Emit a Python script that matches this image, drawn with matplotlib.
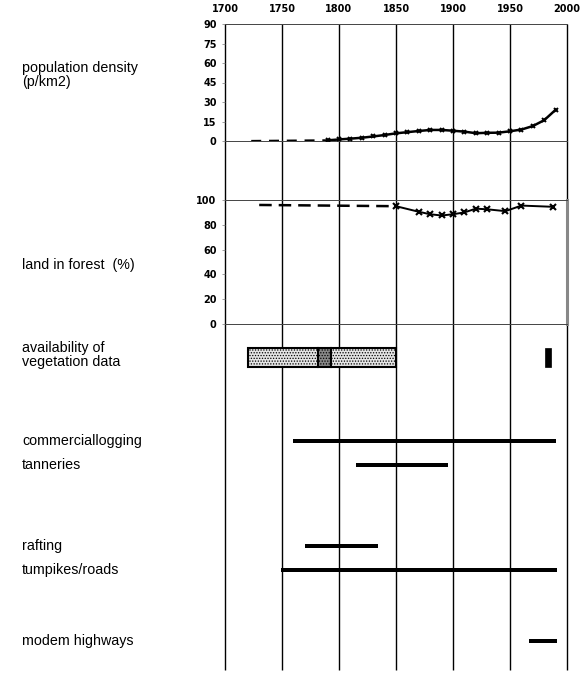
import matplotlib
matplotlib.use("Agg")
import matplotlib.pyplot as plt
from matplotlib import font_manager

# ---------------- data ----------------
grid_years = [1700, 1750, 1800, 1850, 1900, 1950, 2000]

pop_early_years = [1723, 1750, 1775, 1790]
pop_early_vals = [0.0, 0.2, 0.4, 0.5]
pop_years = [1790, 1800, 1810, 1820, 1830, 1840, 1850, 1860, 1870, 1880, 1890,
             1900, 1910, 1920, 1930, 1940, 1950, 1960, 1970, 1980, 1990]
pop_vals = [0.5, 1.2, 1.8, 2.5, 3.5, 4.6, 5.9, 6.8, 7.7, 8.5, 8.5,
            7.9, 7.2, 6.0, 6.3, 6.4, 7.5, 8.8, 11.5, 16.0, 24.0]
pop_ticks = [0, 15, 30, 45, 60, 75, 90]

forest_early_years = [1730, 1790, 1850]
forest_early_vals = [96.0, 95.5, 95.0]
forest_years = [1850, 1870, 1880, 1890, 1900, 1910, 1920, 1930, 1946, 1960, 1988]
forest_vals = [95.0, 90.5, 88.5, 87.5, 88.5, 90.0, 93.0, 92.5, 91.0, 95.5, 94.5]
forest_ticks = [0, 20, 40, 60, 80, 100]

veg_start = [1720, 1782, 1793, 1981]
veg_end = [1782, 1793, 1850, 1986]
veg_kind = ["sparse", "dense", "sparse", "recent"]

activity_labels = ["commerciallogging", "tanneries", "rafting",
                   "tumpikes/roads", "modem highways"]
activity_start = [1760, 1815, 1770, 1749, 1967]
activity_end = [1990, 1896, 1834, 1991, 1991]

# ---------------- layout (pixels) ----------------
W, H = 582, 681
names = {f.name for f in font_manager.fontManager.ttflist}
label_font = "Liberation Sans Narrow" if "Liberation Sans Narrow" in names else "Liberation Sans"
label_size = 12 if label_font == "Liberation Sans Narrow" else 10.3
tick_font = "DejaVu Sans"

plt.rcParams["hatch.color"] = "#444444"
plt.rcParams["hatch.linewidth"] = 0.6


def rect(l, t, r, b):
    return [l / W, 1 - b / H, (r - l) / W, (b - t) / H]


fig = plt.figure(figsize=(W / 100, H / 100), dpi=100)
fig.patch.set_facecolor("white")

# background grid (vertical year lines)
bg = fig.add_axes(rect(225, 24, 567, 670))
bg.set_xlim(1700, 2000)
bg.set_ylim(0, 1)
bg.patch.set_alpha(0)
for s in bg.spines.values():
    s.set_visible(False)
bg.set_yticks([])
bg.xaxis.tick_top()
bg.set_xticks(grid_years)
bg.set_xticklabels([str(y) for y in grid_years], fontfamily=tick_font,
                   fontweight="bold", fontsize=7)
bg.tick_params(axis="x", length=0, pad=7.5)
bg.vlines(grid_years, 0, 1, color="black", lw=1.0, zorder=1, clip_on=False)


def style_panel(ax, ymax, ticks):
    ax.set_xlim(1700, 2000)
    ax.set_ylim(0, ymax)
    ax.patch.set_alpha(0)
    ax.set_xticks([])
    ax.set_yticks(ticks)
    ax.set_yticklabels([str(t) for t in ticks], fontfamily=tick_font,
                       fontweight="bold", fontsize=7)
    ax.tick_params(axis="y", length=2, width=0.5, color="#777777", pad=4)
    ax.spines["left"].set_visible(False)
    ax.spines["right"].set_visible(False)
    for k in ("top", "bottom"):
        ax.spines[k].set_color("#444444")
        ax.spines[k].set_linewidth(0.7)


# population density panel
ax_pop = fig.add_axes(rect(225, 24, 567, 141))
style_panel(ax_pop, 90, pop_ticks)
ax_pop.plot(pop_early_years, pop_early_vals, color="black", lw=1.6,
            dashes=(4.5, 3.5), zorder=3)
ax_pop.plot(pop_years, pop_vals, color="black", lw=1.8, marker="x",
            markersize=3.5, mew=1.4, zorder=3)

# forest panel
ax_for = fig.add_axes(rect(225, 200, 567, 324))
style_panel(ax_for, 100, forest_ticks)
ax_for.spines["right"].set_visible(True)
ax_for.spines["right"].set_color("#888888")
ax_for.spines["right"].set_linewidth(2.2)
ax_for.plot(forest_early_years, forest_early_vals, color="black", lw=1.8,
            dashes=(5, 2.8), dash_capstyle="butt", zorder=3)
ax_for.plot(forest_years, forest_vals, color="black", lw=1.4, marker="x",
            markersize=4, mew=1.5, zorder=3)

# lower panel: availability + activities
row_y = [33.5, 117, 141, 222, 246, 317]   # pixel offsets below y=324
ax_g = fig.add_axes(rect(225, 324, 567, 670))
ax_g.set_xlim(1700, 2000)
ax_g.set_ylim(346, 0)
ax_g.axis("off")

for s, e, k in zip(veg_start, veg_end, veg_kind):
    if k == "sparse":
        ax_g.barh(row_y[0], e - s, left=s, height=18.5, facecolor="#e4e4e4",
                  edgecolor="black", lw=1.5, hatch="......", zorder=4)
    elif k == "dense":
        ax_g.barh(row_y[0], e - s, left=s, height=18.5, facecolor="#888888",
                  edgecolor="black", lw=1.5, hatch="......", zorder=4)
    else:
        ax_g.barh(row_y[0], e - s, left=s, height=18.5, facecolor="black",
                  edgecolor="black", lw=0.5, zorder=4)

for yy, s, e in zip(row_y[1:], activity_start, activity_end):
    ax_g.barh(yy, e - s, left=s, height=4.5, color="black", zorder=4)

# ---------------- left labels ----------------
def label(text, baseline_px):
    fig.text(22 / W, 1 - baseline_px / H, text, fontfamily=label_font,
             fontsize=label_size, va="baseline", ha="left", color="black")


label("population density", 72)
label("(p/km2)", 86)
label("land in forest  (%)", 269)
label("availability of", 352)
label("vegetation data", 366)
for txt, yy in zip(activity_labels, row_y[1:]):
    label(txt, 324 + yy + 4)

fig.savefig("out.png", dpi=100, facecolor="white")
